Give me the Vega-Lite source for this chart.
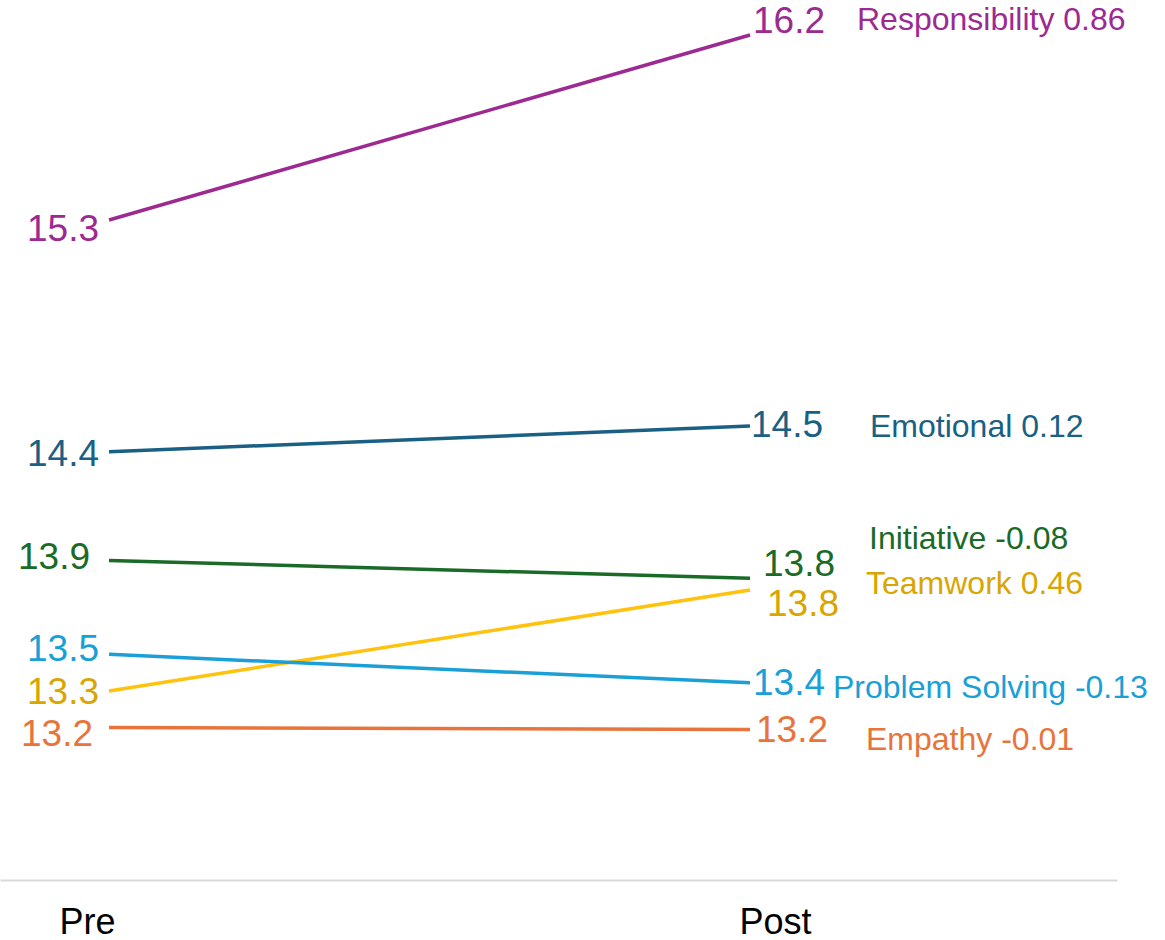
{
  "$schema": "https://vega.github.io/schema/vega-lite/v6.json",
  "width": 1117,
  "height": 880,
  "padding": 0,
  "background": "white",
  "config": {"view": {"stroke": null}, "font": "Liberation Sans", "text": {"font": "Liberation Sans", "baseline": "middle"}},
  "data": {"values": [
    {"skill": "Responsibility", "time": "Pre", "score": 15.425, "label": "15.3", "effect": "0.86"},
    {"skill": "Responsibility", "time": "Post", "score": 16.245, "label": "16.2", "effect": "0.86"},
    {"skill": "Emotional", "time": "Pre", "score": 14.398, "label": "14.4", "effect": "0.12"},
    {"skill": "Emotional", "time": "Post", "score": 14.512, "label": "14.5", "effect": "0.12"},
    {"skill": "Initiative", "time": "Pre", "score": 13.916, "label": "13.9", "effect": "-0.08"},
    {"skill": "Initiative", "time": "Post", "score": 13.837, "label": "13.8", "effect": "-0.08"},
    {"skill": "Teamwork", "time": "Pre", "score": 13.338, "label": "13.3", "effect": "0.46"},
    {"skill": "Teamwork", "time": "Post", "score": 13.785, "label": "13.8", "effect": "0.46"},
    {"skill": "Problem Solving", "time": "Pre", "score": 13.5, "label": "13.5", "effect": "-0.13"},
    {"skill": "Problem Solving", "time": "Post", "score": 13.374, "label": "13.4", "effect": "-0.13"},
    {"skill": "Empathy", "time": "Pre", "score": 13.176, "label": "13.2", "effect": "-0.01"},
    {"skill": "Empathy", "time": "Post", "score": 13.167, "label": "13.2", "effect": "-0.01"}
  ]},
  "transform": [{"calculate": "datum.skill + ' ' + datum.effect", "as": "name"}],
  "encoding": {
    "x": {
      "field": "time", "type": "nominal",
      "scale": {"type": "point", "domain": ["Pre", "Post"], "padding": 0.3713, "align": 0.229, "round": false},
      "axis": {"title": null, "ticks": false, "grid": false, "domainColor": "#d9d9d9", "domainWidth": 2,
               "labelFont": "Liberation Sans", "labelFontSize": 36, "labelColor": "#000000", "labelPadding": 25, "labelAngle": 0,
               "labelOffset": {"condition": {"test": "datum.value == 'Pre'", "value": -22}, "value": 25}}
    },
    "y": {"field": "score", "type": "quantitative", "scale": {"domain": [12.5, 16.4], "nice": false, "zero": false}, "axis": null},
    "color": {"field": "skill", "type": "nominal", "legend": null,
      "scale": {"domain": ["Responsibility", "Emotional", "Initiative", "Teamwork", "Problem Solving", "Empathy"],
                "range": ["#9C2A91", "#1A5F84", "#1A6B27", "#FFC20E", "#1A9FD6", "#E8743B"]}}
  },
  "layer": [
    {"mark": {"type": "line", "strokeWidth": 3.5}, "encoding": {}},

    {"transform": [{"filter": "datum.skill == 'Responsibility' && datum.time == 'Pre'"}], "mark": {"type": "text", "align": "right", "dx": -10, "dy": 10, "fontSize": 37}, "encoding": {"text": {"field": "label"}}},
    {"transform": [{"filter": "datum.skill == 'Responsibility' && datum.time == 'Post'"}], "mark": {"type": "text", "align": "left", "dx": 3, "dy": -13, "fontSize": 37}, "encoding": {"text": {"field": "label"}}},
    {"transform": [{"filter": "datum.skill == 'Responsibility' && datum.time == 'Post'"}], "mark": {"type": "text", "align": "left", "dx": 107, "dy": -15, "fontSize": 32}, "encoding": {"text": {"field": "name"}}},

    {"transform": [{"filter": "datum.skill == 'Emotional' && datum.time == 'Pre'"}], "mark": {"type": "text", "align": "right", "dx": -10, "dy": 3, "fontSize": 37}, "encoding": {"text": {"field": "label"}}},
    {"transform": [{"filter": "datum.skill == 'Emotional' && datum.time == 'Post'"}], "mark": {"type": "text", "align": "left", "dx": 1, "dy": 0, "fontSize": 37}, "encoding": {"text": {"field": "label"}}},
    {"transform": [{"filter": "datum.skill == 'Emotional' && datum.time == 'Post'"}], "mark": {"type": "text", "align": "left", "dx": 120, "dy": 1, "fontSize": 32}, "encoding": {"text": {"field": "name"}}},

    {"transform": [{"filter": "datum.skill == 'Initiative' && datum.time == 'Pre'"}], "mark": {"type": "text", "align": "right", "dx": -19, "dy": -2, "fontSize": 37}, "encoding": {"text": {"field": "label"}}},
    {"transform": [{"filter": "datum.skill == 'Initiative' && datum.time == 'Post'"}], "mark": {"type": "text", "align": "left", "dx": 13, "dy": -13, "fontSize": 37}, "encoding": {"text": {"field": "label"}}},
    {"transform": [{"filter": "datum.skill == 'Initiative' && datum.time == 'Post'"}], "mark": {"type": "text", "align": "left", "dx": 119, "dy": -39, "fontSize": 32}, "encoding": {"text": {"field": "name"}}},

    {"transform": [{"filter": "datum.skill == 'Teamwork' && datum.time == 'Pre'"}], "mark": {"type": "text", "align": "right", "dx": -10, "dy": 2, "fontSize": 37}, "encoding": {"text": {"field": "label"}, "color": {"value": "#DAA500"}}},
    {"transform": [{"filter": "datum.skill == 'Teamwork' && datum.time == 'Post'"}], "mark": {"type": "text", "align": "left", "dx": 17, "dy": 15, "fontSize": 37}, "encoding": {"text": {"field": "label"}, "color": {"value": "#DAA500"}}},
    {"transform": [{"filter": "datum.skill == 'Teamwork' && datum.time == 'Post'"}], "mark": {"type": "text", "align": "left", "dx": 116, "dy": -6, "fontSize": 32}, "encoding": {"text": {"field": "name"}, "color": {"value": "#DAA500"}}},

    {"transform": [{"filter": "datum.skill == 'Problem Solving' && datum.time == 'Pre'"}], "mark": {"type": "text", "align": "right", "dx": -10, "dy": -4, "fontSize": 37}, "encoding": {"text": {"field": "label"}}},
    {"transform": [{"filter": "datum.skill == 'Problem Solving' && datum.time == 'Post'"}], "mark": {"type": "text", "align": "left", "dx": 3, "dy": 1, "fontSize": 37}, "encoding": {"text": {"field": "label"}}},
    {"transform": [{"filter": "datum.skill == 'Problem Solving' && datum.time == 'Post'"}], "mark": {"type": "text", "align": "left", "dx": 83, "dy": 5, "fontSize": 32}, "encoding": {"text": {"field": "name"}}},

    {"transform": [{"filter": "datum.skill == 'Empathy' && datum.time == 'Pre'"}], "mark": {"type": "text", "align": "right", "dx": -16, "dy": 8, "fontSize": 37}, "encoding": {"text": {"field": "label"}}},
    {"transform": [{"filter": "datum.skill == 'Empathy' && datum.time == 'Post'"}], "mark": {"type": "text", "align": "left", "dx": 6, "dy": 2, "fontSize": 37}, "encoding": {"text": {"field": "label"}}},
    {"transform": [{"filter": "datum.skill == 'Empathy' && datum.time == 'Post'"}], "mark": {"type": "text", "align": "left", "dx": 116, "dy": 11, "fontSize": 32}, "encoding": {"text": {"field": "name"}}}
  ]
}
